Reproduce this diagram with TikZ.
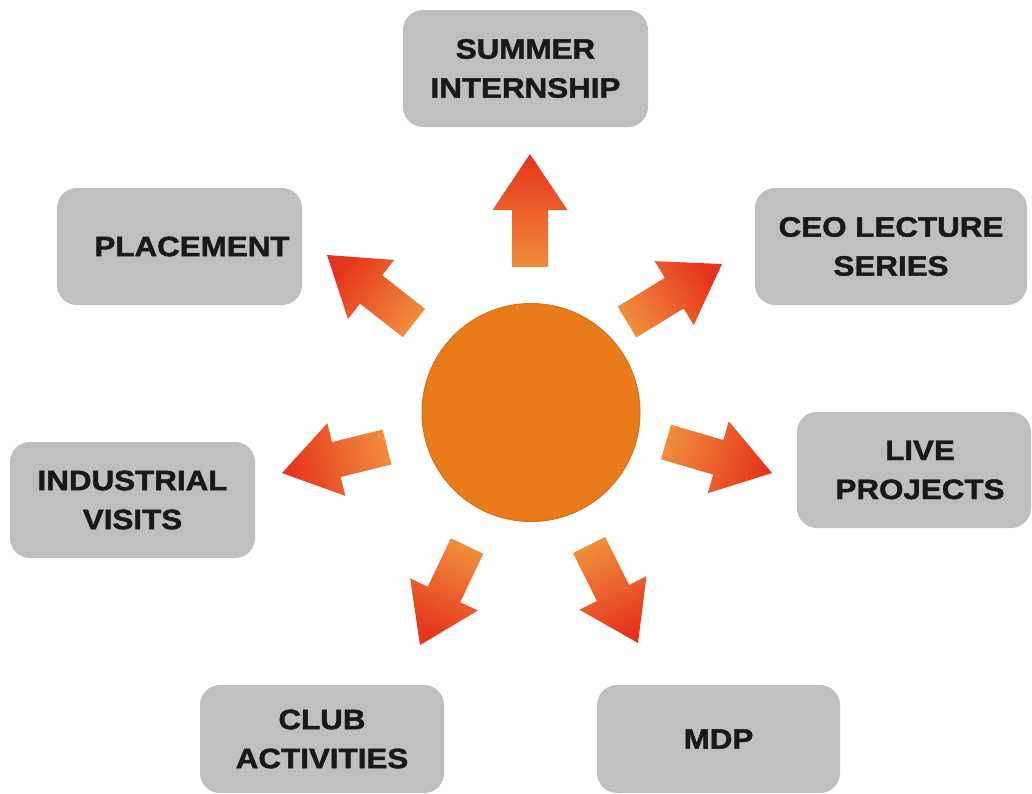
\documentclass[tikz,border=0pt]{standalone}
\usepackage{fontspec}
\setmainfont{Liberation Sans}
\newfontfamily\boxfont{Liberation Sans}[FakeStretch=1.12, FakeBold=1.6]
\usetikzlibrary{calc}
\definecolor{boxgray}{RGB}{191,191,191}
\definecolor{boxtext}{RGB}{25,25,25}
\definecolor{sunorange}{RGB}{233,123,27}
\definecolor{arrtail}{RGB}{240,140,58}
\definecolor{arrhead}{RGB}{229,52,30}
\newcommand\sunarrow[2]{%
  \pgfmathanglebetweenpoints{\pgfpointanchor{#1}{center}}{\pgfpointanchor{#2}{center}}%
  \pgfmathsetmacro\arang{\pgfmathresult-90}%
  \coordinate (#2m) at ($(#2)!56pt!(#1)$);
  \shade[arrowshade, shading angle=\arang]
    ($(#1)!18pt!90:(#2)$) -- ($(#2m)!18pt!90:(#2)$) -- ($(#2m)!37.5pt!90:(#2)$) -- (#2)
    -- ($(#2m)!37.5pt!-90:(#2)$) -- ($(#2m)!18pt!-90:(#2)$) -- ($(#1)!18pt!-90:(#2)$) -- cycle;
}
\begin{document}
\begin{tikzpicture}[x=1pt,y=1pt,
  sbox/.style={fill=boxgray, rounded corners=20pt, align=center, inner sep=0pt, text=boxtext,
    font=\boxfont\bfseries\fontsize{28pt}{39pt}\selectfont},
  arrowshade/.style={top color=arrhead, bottom color=arrtail}]
\useasboundingbox (0,0) rectangle (1032,-793);
\clip (0,0) rectangle (1032,-793);
\fill[white] (0,0) rectangle (1032,-793);

% boxes
\node[sbox, minimum width=245pt, minimum height=117pt] (summer) at (525.5,-68.5) {SUMMER\\INTERNSHIP};
\node[sbox, minimum width=245pt, minimum height=117pt] (placement) at (179.5,-246.5) {\hspace*{25pt}PLACEMENT};
\node[sbox, minimum width=272pt, minimum height=117pt] (ceo) at (891,-246.5) {CEO LECTURE\\SERIES};
\node[sbox, minimum width=245pt, minimum height=116pt] (industrial) at (132.5,-500) {INDUSTRIAL\\VISITS};
\node[sbox, minimum width=234pt, minimum height=116pt] (live) at (914,-470) {\hspace*{12pt}LIVE\\\hspace*{12pt}PROJECTS};
\node[sbox, minimum width=244pt, minimum height=108pt] (club) at (322,-739) {CLUB\\ACTIVITIES};
\node[sbox, minimum width=243pt, minimum height=108pt] (mdp) at (718.5,-739) {MDP};

% sun
\node[circle, fill=sunorange, draw=sunorange!92!black, line width=1pt, minimum size=218pt, inner sep=0pt] (sun) at (531,-412.5) {};

% arrows
\coordinate (a1t) at (530,-267); \coordinate (a1h) at (530,-154);
\coordinate (a2t) at (627,-322); \coordinate (a2h) at (722,-264);
\coordinate (a3t) at (666,-442); \coordinate (a3h) at (772,-473);
\coordinate (a4t) at (467,-546); \coordinate (a4h) at (420,-645);
\coordinate (a5t) at (589,-545); \coordinate (a5h) at (638,-643);
\coordinate (a6t) at (414,-323); \coordinate (a6h) at (327,-255);
\coordinate (a7t) at (387,-447); \coordinate (a7h) at (282,-473);
\sunarrow{a1t}{a1h}
\sunarrow{a2t}{a2h}
\sunarrow{a3t}{a3h}
\sunarrow{a4t}{a4h}
\sunarrow{a5t}{a5h}
\sunarrow{a6t}{a6h}
\sunarrow{a7t}{a7h}
\end{tikzpicture}
\end{document}
